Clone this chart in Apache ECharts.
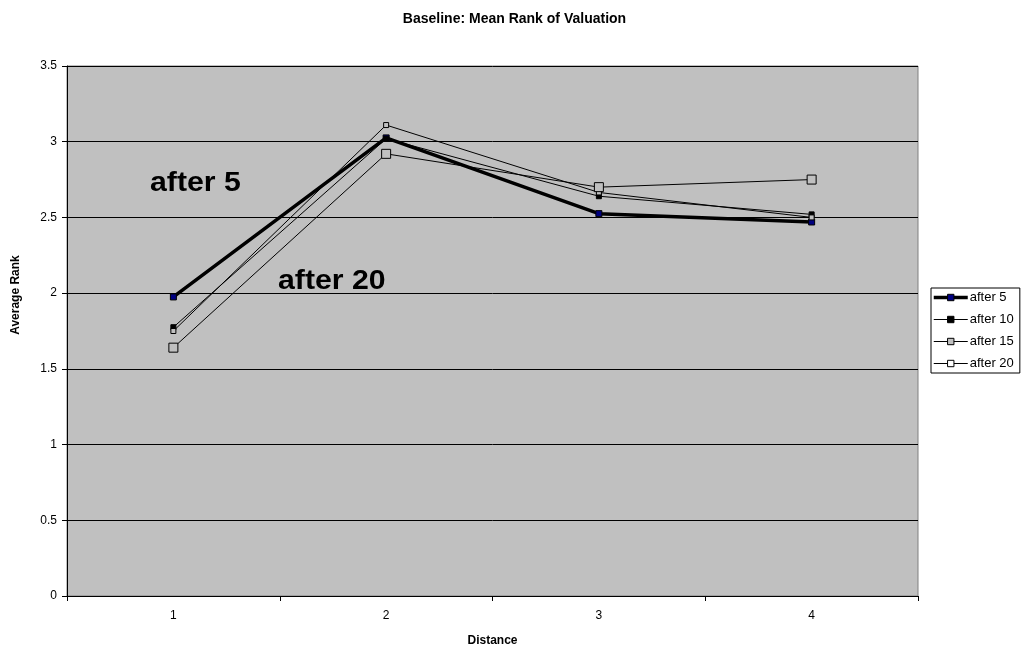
<!DOCTYPE html>
<html>
<head>
<meta charset="utf-8">
<script src="https://cdn.jsdelivr.net/npm/echarts@6/dist/echarts.min.js"></script>
<style>
  html, body { margin: 0; padding: 0; background: #fff; }
  #chart { width: 1029px; height: 655px; }
</style>
</head>
<body>
<div id="chart"></div>
<script>
// Mean rank of valuation by distance, one line per stage
const distances = ['1', '2', '3', '4'];
const after5  = [1.975, 3.025, 2.525, 2.47];
const after10 = [1.775, 3.02, 2.64, 2.52];
const after15 = [1.75, 3.11, 2.665, 2.50];
const after20 = [1.64, 2.92, 2.70, 2.75];
const yTicks = { min: 0, max: 3.5, step: 0.5 };

const FONT = '"Liberation Sans", Arial, sans-serif';
const chart = echarts.init(document.getElementById('chart'));

function lineSeries(name, data, width, symbolSize, fill) {
  return {
    name: name,
    type: 'line',
    data: data,
    symbol: 'rect',
    symbolSize: symbolSize,
    showAllSymbol: true,
    lineStyle: { color: '#000', width: width },
    itemStyle: { color: fill, borderColor: '#000', borderWidth: 1 },
    emphasis: { disabled: true },
    animation: false,
    z: 3
  };
}

function legendItem(name, width, fill) {
  return {
    name: name,
    lineStyle: { color: '#000', width: width },
    itemStyle: { color: fill, borderColor: '#000', borderWidth: 1 }
  };
}

chart.setOption({
  backgroundColor: '#fff',
  animation: false,
  title: {
    text: 'Baseline: Mean Rank of Valuation',
    left: 'center',
    top: 7,
    textStyle: { fontFamily: FONT, fontSize: 14, fontWeight: 'bold', color: '#000' }
  },
  grid: {
    left: 67, right: 111, top: 66, bottom: 59,
    show: true,
    backgroundColor: '#c0c0c0',
    borderColor: '#808080',
    borderWidth: 1
  },
  legend: {
    orient: 'vertical',
    left: 931,
    top: 288,
    width: 97,
    padding: [2, 6, 2, 1],
    itemWidth: 34,
    itemHeight: 8,
    itemGap: 7,
    borderColor: '#000',
    borderWidth: 1,
    backgroundColor: '#fff',
    textStyle: { fontFamily: FONT, fontSize: 13, color: '#000', lineHeight: 15, padding: [0, 0, 0, -3] },
    data: [
      legendItem('after 5', 3.5, '#000080'),
      legendItem('after 10', 1, '#000'),
      legendItem('after 15', 1, '#c0c0c0'),
      legendItem('after 20', 1, '#fff')
    ]
  },
  xAxis: {
    type: 'category',
    data: distances,
    boundaryGap: true,
    name: 'Distance',
    nameLocation: 'middle',
    nameGap: 39,
    nameTextStyle: { fontFamily: FONT, fontSize: 12, fontWeight: 'bold', color: '#000' },
    axisLine: { lineStyle: { color: '#000', width: 1 } },
    axisTick: { show: true, alignWithLabel: false, length: 5, lineStyle: { color: '#000' } },
    axisLabel: { fontFamily: FONT, fontSize: 12, color: '#000', margin: 14 },
    splitLine: { show: false }
  },
  yAxis: {
    type: 'value',
    min: yTicks.min,
    max: yTicks.max,
    interval: yTicks.step,
    name: 'Average Rank',
    nameLocation: 'middle',
    nameGap: 45,
    nameTextStyle: { fontFamily: FONT, fontSize: 12, fontWeight: 'bold', color: '#000', padding: [0, 0, 0, 72] },
    axisLine: { show: true, lineStyle: { color: '#000', width: 1 } },
    axisTick: { show: true, length: 5, lineStyle: { color: '#000' } },
    axisLabel: { fontFamily: FONT, fontSize: 12, color: '#000', margin: 10 },
    splitLine: { show: true, lineStyle: { color: '#000', width: 1 } }
  },
  graphic: [
    {
      type: 'text', x: 150, y: 184, scaleX: 1.12, z: 10,
      style: { text: 'after 5', font: 'bold 27px ' + FONT, fill: '#000', verticalAlign: 'middle', align: 'left' }
    },
    {
      type: 'text', x: 278, y: 282, scaleX: 1.12, z: 10,
      style: { text: 'after 20', font: 'bold 27px ' + FONT, fill: '#000', verticalAlign: 'middle', align: 'left' }
    }
  ],
  series: [
    lineSeries('after 5', after5, 3.5, 6, '#000080'),
    lineSeries('after 10', after10, 1, 5, '#000'),
    lineSeries('after 15', after15, 1, 5, '#c0c0c0'),
    lineSeries('after 20', after20, 1, 9, '#c0c0c0')
  ]
});
</script>
</body>
</html>
